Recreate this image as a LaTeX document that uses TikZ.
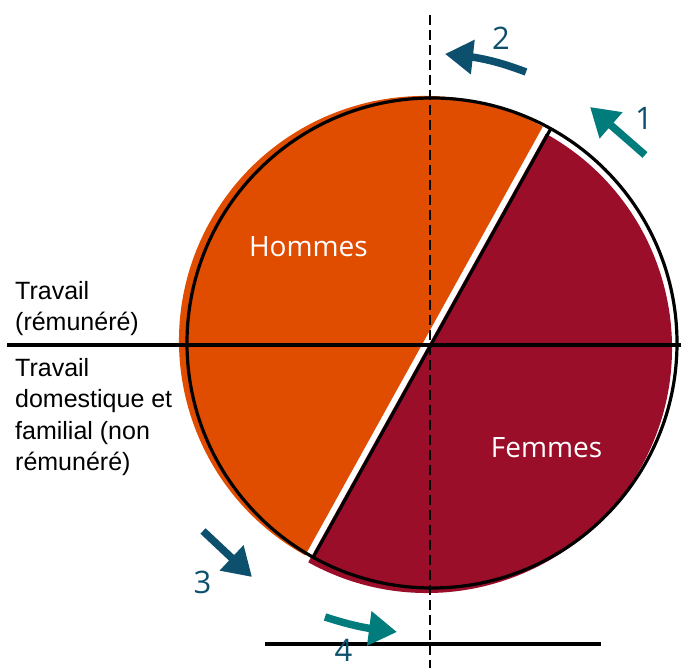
\documentclass[tikz,border=0pt]{standalone}
\usepackage{fontspec}
\setmainfont{Liberation Sans}
\newfontfamily\labelfont{Open Sans}
\usetikzlibrary{arrows.meta,bending}
\definecolor{hcolor}{HTML}{E04C00}
\definecolor{fcolor}{HTML}{9B0E2A}
\definecolor{tealarr}{HTML}{007C7C}
\definecolor{bluearr}{HTML}{0C506E}
\tikzset{
  rim/.style={draw=black, line width=3.2pt},
  axis/.style={draw=black, line width=3.2pt},
  midline/.style={draw=black, line width=2.5pt, dash pattern=on 10pt off 5pt},
  arr/.style={line width=7.5pt, -{Triangle[length=28pt,width=33pt]}},
  sidetxt/.style={font=\fontsize{25}{31.5}\selectfont, align=left, inner sep=0pt},
  halftxt/.style={font=\labelfont\fontsize{28}{30}\selectfont, text=white, inner sep=0pt},
  num/.style={font=\labelfont\fontsize{31}{33}\selectfont, text=bluearr, inner sep=0pt},
}

\begin{document}
\begin{tikzpicture}[x=1pt, y=1pt]
  \useasboundingbox (0,0) rectangle (681,668);
  \coordinate (c) at (432,325);

  % the two halves, a bit off the outline
  \fill[hcolor] (424,327) ++(61:245) arc[start angle=61, end angle=241, radius=245] -- cycle;
  \fill[fcolor] (427,320) ++(241:245) arc[start angle=241, end angle=421, radius=245] -- cycle;

  % axes
  \coordinate (hl) at (7,323);
  \coordinate (hr) at (681,323);
  \coordinate (vt) at (430,653);
  \coordinate (vb) at (430,0);
  \coordinate (bl) at (265,24);
  \coordinate (br) at (601,24);
  \draw[axis] (hl) -- (hr);
  \draw[midline] (vt) -- (vb);
  \draw[axis] (bl) -- (br);

  \draw[rim] (c) circle[radius=245];
  \draw[rim] (c) ++(61:245) -- ++(241:490);

  \node[halftxt, anchor=base] (men) at (308.4,411.3) {Hommes};
  \node[halftxt, anchor=base] (women) at (546.5,210.7) {Femmes};

  \node[sidetxt, anchor=north west] (paid) at (15,387) {Travail\\(rémunéré)};
  \node[sidetxt, anchor=north west] (unpaid) at (15,310) {Travail\\domestique et\\familial (non\\rémunéré)};

  % arrows
  \coordinate (a1s) at (645,513);
  \coordinate (a1e) at (590,561);
  \coordinate (a2s) at (526,596);
  \coordinate (a2e) at (445,614);
  \coordinate (a3s) at (203,137);
  \coordinate (a3e) at (252,91);
  \coordinate (a4s) at (325,51);
  \coordinate (a4e) at (397,36);
  \draw[arr, tealarr] (a1s) -- (a1e);
  \draw[arr, bluearr] (a2s) to[bend right=8] (a2e);
  \draw[arr, bluearr] (a3s) -- (a3e);
  \draw[arr, tealarr] (a4s) to[bend right=6] (a4e);

  \node[num] (n1) at (644,550) {1};
  \node[num] (n2) at (501,629.5) {2};
  \node[num] (n3) at (202.5,86) {3};
  \node[num] (n4) at (343.5,18) {4};
\end{tikzpicture}
\end{document}
